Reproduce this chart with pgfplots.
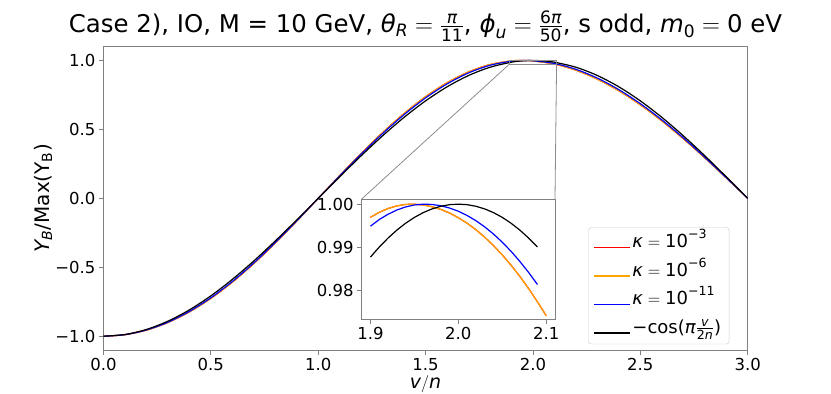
\documentclass[border=0pt]{standalone}
\usepackage{amsmath}
\usepackage{fontspec}
\setmainfont{DejaVu Sans}
\usepackage{pgfplots}
\usepackage{pgfplotstable}
\pgfplotsset{compat=1.18}
\newcommand{\mi}[1]{\text{\itshape #1}}
\newcommand{\up}[1]{\text{#1}}
\definecolor{mplorange}{rgb}{1,0.647,0}
\definecolor{mplred}{rgb}{1,0,0}
\definecolor{mplblue}{rgb}{0,0,1}
\definecolor{spine}{gray}{0.5}
\newcommand{\legline}[1]{\node[inner sep=0pt, anchor=west] at (0pt,0pt) {\textcolor{#1}{\rule[-0.65pt]{36pt}{1.3pt}}};}

% main curves (kappa=1e-3 and 1e-6 coincide)
\pgfplotstableread{
x y
0.0 -1.0
0.1 -0.98900
0.2 -0.95580
0.3 -0.90063
0.4 -0.82371
0.5 -0.72573
0.6 -0.60818
0.7 -0.47320
0.8 -0.32392
0.9 -0.16496
1.0 0.0
1.1 0.16512
1.2 0.32570
1.3 0.47735
1.4 0.61588
1.5 0.73751
1.6 0.83890
1.7 0.91725
1.8 0.97043
1.9 0.99694
1.95 0.99998
2.0 0.99686
2.1 0.97403
2.2 0.92954
2.3 0.86448
2.4 0.78014
2.5 0.67857
2.6 0.56182
2.7 0.43272
2.8 0.29388
2.9 0.14867
3.0 0.0
}\orangemain
\pgfplotstableread{
x y
0.0 -1.0
0.1 -0.98868
0.2 -0.95463
0.3 -0.89830
0.4 -0.82013
0.5 -0.72118
0.6 -0.60318
0.7 -0.46849
0.8 -0.32020
0.9 -0.16279
1.0 0.0
1.1 0.16255
1.2 0.32080
1.3 0.47049
1.4 0.60768
1.5 0.72871
1.6 0.83034
1.7 0.90988
1.8 0.96522
1.9 0.99488
1.96 1.00000
2.0 0.99835
2.1 0.97829
2.2 0.93583
2.3 0.87205
2.4 0.78823
2.5 0.68649
2.6 0.56908
2.7 0.43853
2.8 0.29809
2.9 0.15066
3.0 0.0
}\bluemain
\pgfplotstableread{
x y
0.0 -1.0
0.1 -0.98769
0.2 -0.95106
0.3 -0.89101
0.4 -0.80902
0.5 -0.70711
0.6 -0.58779
0.7 -0.45399
0.8 -0.30902
0.9 -0.15643
1.0 0.0
1.1 0.15643
1.2 0.30902
1.3 0.45399
1.4 0.58779
1.5 0.70711
1.6 0.80902
1.7 0.89101
1.8 0.95106
1.9 0.98769
1.95 0.99692
2.0 1.0
2.05 0.99692
2.1 0.98769
2.2 0.95106
2.3 0.89101
2.4 0.80902
2.5 0.70711
2.6 0.58779
2.7 0.45399
2.8 0.30902
2.9 0.15643
3.0 0.0
}\blackmain
% inset curves
\pgfplotstableread{
x y
1.90 0.99694
1.91 0.99810
1.92 0.99899
1.93 0.99960
1.94 0.99993
1.947 1.00000
1.95 0.99998
1.96 0.99981
1.97 0.99940
1.98 0.99878
1.99 0.99793
2.00 0.99685
2.01 0.99557
2.02 0.99405
2.03 0.99232
2.04 0.99036
2.05 0.98819
2.06 0.98579
2.07 0.98318
2.08 0.98034
2.09 0.97729
2.10 0.97403
}\orangeins
\pgfplotstableread{
x y
1.90 0.99488
1.91 0.99642
1.92 0.99765
1.93 0.99864
1.94 0.99935
1.95 0.99981
1.96 1.00000
1.97 0.99993
1.98 0.99963
1.99 0.99910
2.00 0.99835
2.01 0.99736
2.02 0.99615
2.03 0.99471
2.04 0.99304
2.05 0.99115
2.06 0.98902
2.07 0.98667
2.08 0.98410
2.09 0.98130
}\blueins
\pgfplotstableread{
x y
1.90 0.98769
1.91 0.99002
1.92 0.99211
1.93 0.99396
1.94 0.99556
1.95 0.99692
1.96 0.99803
1.97 0.99889
1.98 0.99951
1.99 0.99988
2.00 1.00000
2.01 0.99988
2.02 0.99951
2.03 0.99889
2.04 0.99803
2.05 0.99692
2.06 0.99556
2.07 0.99396
2.08 0.99211
2.09 0.99002
}\blackins

\pgfplotsset{
  mystyle/.style={
    scale only axis,
    tick align=outside,
    xtick pos=bottom, ytick pos=left,
    major tick length=4.5pt,
    every tick/.style={spine, line width=0.8pt},
    axis line style={spine, line width=0.8pt},
    ticklabel style={font=\fontsize{16.5}{16.5}\selectfont},
    clip=true,
  },
}

\begin{document}
\begin{tikzpicture}
\begin{axis}[
  mystyle,
  name=main, at={(0pt,0pt)}, anchor=south west,
  width=644.2pt, height=303.3pt,
  xmin=0, xmax=3, ymin=-1.1, ymax=1.1,
  xtick={0,0.5,1,1.5,2,2.5,3},
  xticklabels={0.0,0.5,1.0,1.5,2.0,2.5,3.0},
  ytick={-1,-0.5,0,0.5,1},
  yticklabels={−1.0,−0.5,0.0,0.5,1.0},
  xlabel={$\mi{v}/\mi{n}$},
  ylabel={$\mi{Y}_{\mi{B}}$/Max(Y$_{\up{B}}$)},
  label style={font=\fontsize{20}{20}\selectfont},
  xlabel style={font=\fontsize{19}{19}\selectfont, at={(axis description cs:0.5,-0.113)}, anchor=center},
  ylabel style={at={(axis description cs:-0.0939,0.5)}, anchor=center},
  legend cell align=left,
  legend style={at={(axis description cs:0.9715,0.019)}, anchor=south east,
    draw=black!20, rounded corners=3pt, fill=white,
    font=\fontsize{18}{18}\selectfont,
    inner xsep=6pt, inner ysep=3pt, row sep=3.5pt,
    nodes={inner sep=2pt, text height=15pt, text depth=6pt},
    /tikz/every even column/.append style={column sep=10pt}},
]
\addlegendimage{legend image code/.code={\legline{mplred}}}
\addlegendentry{$\mi{κ}=\up{10}^{\up{−3}}$}
\addlegendimage{legend image code/.code={\legline{mplorange}}}
\addlegendentry{$\mi{κ}=\up{10}^{\up{−6}}$}
\addlegendimage{legend image code/.code={\legline{mplblue}}}
\addlegendentry{$\mi{κ}=\up{10}^{\up{−11}}$}
\addlegendimage{legend image code/.code={\legline{black}}}
\addlegendentry{$\up{−cos(}\mi{π}\frac{\mi{v}}{\up{2}\mi{n}}\up{)}$}
\addplot[mplred, line width=1.2pt, smooth, forget plot] table[x=x,y=y] {\orangemain};
\addplot[mplorange, line width=1.2pt, smooth, forget plot] table[x=x,y=y] {\orangemain};
\addplot[mplblue, line width=1.2pt, smooth, forget plot] table[x=x,y=y] {\bluemain};
\addplot[black, line width=1.2pt, smooth, forget plot] table[x=x,y=y] {\blackmain};
\draw[black!45, line width=0.8pt] (axis cs:1.89,0.9732) rectangle (axis cs:2.11,1.0012);
\coordinate (zbl) at (axis cs:1.89,0.9732);
\coordinate (zbr) at (axis cs:2.11,0.9732);
\end{axis}
\begin{axis}[
  mystyle,
  name=ins, at={(258.2pt,30.7pt)}, anchor=south west,
  width=193.3pt, height=120.3pt,
  xmin=1.89, xmax=2.11, ymin=0.9732, ymax=1.0012,
  xtick={1.9,2.0,2.1}, xticklabels={1.9,2.0,2.1},
  ytick={0.98,0.99,1.0}, yticklabels={0.98,0.99,1.00},
  axis background/.style={fill=white},
]
\addplot[mplred, line width=1.2pt] table[x=x,y=y] {\orangeins};
\addplot[mplorange, line width=1.2pt] table[x=x,y=y] {\orangeins};
\addplot[mplblue, line width=1.2pt] table[x=x,y=y] {\blueins};
\addplot[black, line width=1.2pt] table[x=x,y=y] {\blackins};
\end{axis}
\draw[black!45, line width=0.8pt] (zbl) -- (ins.north west);
\draw[black!45, line width=0.8pt] (zbr) -- (ins.north east);
\node[anchor=base, font=\fontsize{24.4}{24.4}\selectfont] at (322pt,317pt)
  {Case 2), IO, M = 10 GeV, $\mi{θ}_{\mi{R}}=\frac{\mi{π}}{\up{11}}$, $\mi{ϕ}_{\mi{u}}=\frac{\up{6}\mi{π}}{\up{50}}$, s odd, $\mi{m}_{\up{0}}=\up{0}$ eV};
\pgfresetboundingbox
\path (-103.5pt,-44pt) rectangle (727.5pt,350pt);
\end{tikzpicture}
\end{document}
